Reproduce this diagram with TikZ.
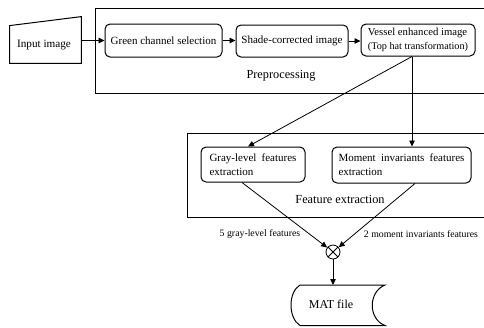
\documentclass[tikz,border=0pt]{standalone}
\usepackage{fontspec}
\setmainfont{Liberation Serif}
\usetikzlibrary{arrows.meta,calc}
\begin{document}
\begin{tikzpicture}[x=1pt,y=-1pt,
  line width=0.8pt,
  arr/.style={-{Triangle[length=6pt,width=5.5pt]}},
  box/.style={draw,line width=1pt,rounded corners=5pt,inner sep=0pt,font=\fontsize{11}{14}\selectfont},
  grp/.style={draw,inner sep=0pt},
  lbl/.style={font=\fontsize{12.3}{14}\selectfont,inner sep=0pt},
  elbl/.style={font=\fontsize{9.8}{12}\selectfont,inner sep=0pt}]
\useasboundingbox (0,0) rectangle (484,327);
\clip (0,0) rectangle (484,327);
% groups
\node[grp,minimum width=395pt,minimum height=85pt] (pre) at (292.5,50.5) {};
\node[grp,minimum width=303pt,minimum height=84pt] (fe) at (338.5,175) {};
\node[lbl] (prelbl) at (281,76) {Preprocessing};
\node[lbl] (felbl) at (340,199) {Feature extraction};
% input
\node[inner sep=0pt,minimum width=71pt,minimum height=46pt] (input) at (45.5,40) {};
\draw[line width=1pt] (input.south west) -- (input.south east) -- (input.north east) -- ($(input.north west)+(0,9)$) -- cycle;
\node[inner sep=0pt,font=\fontsize{11.2}{14}\selectfont] (inputlbl) at (44,45) {Input image};
% preprocessing boxes
\node[box,minimum width=117pt,minimum height=33pt] (green) at (163.5,40.5) {Green channel selection};
\node[box,minimum width=112pt,minimum height=32pt] (shade) at (292,41) {Shade-corrected image};
\node[box,minimum width=114pt,minimum height=32pt,align=left,font=\fontsize{10.7}{14}\selectfont] (vessel) at (418,40) {Vessel enhanced image\\{\fontsize{10.2}{12}\selectfont (Top hat transformation)}};
% feature boxes
\node[box,text width=87pt,align=justify,inner xsep=8.5pt,minimum height=35pt] (gray) at (253,164.5) {Gray-level features extraction};
\node[box,text width=126pt,align=justify,inner xsep=6.5pt,minimum height=36pt] (moment) at (401.5,165) {Moment invariants features extraction};
% mix
\node[draw,circle,minimum size=14pt,inner sep=0pt] (mix) at (333,252) {};
\draw (mix.north west) -- (mix.south east) (mix.north east) -- (mix.south west);
\node[elbl] (l1) at (260,234) {5 gray-level features};
\node[elbl] (l2) at (421,234) {2 moment invariants features};
% MAT file
\draw[line width=1pt] (300,285) -- (385,285) .. controls (368,292) and (368,319) .. (385,325.5) -- (300,325.5) .. controls (288,318) and (288,292) .. (300,285);
\node[inner sep=0pt,font=\fontsize{12}{14}\selectfont] (mat) at (331,304) {MAT file};
\coordinate (mattop) at (333,285);
% connectors
\draw[arr] (green.west -| input.east) -- (green.west);
\draw[arr] (green.east) -- (green.east -| shade.west);
\draw[arr] (shade.east) -- (shade.east -| vessel.west);
\coordinate (vs) at ($(vessel.south)+(-6,0)$);
\draw[arr] (vs) -- ($(gray.north)+(-5,0)$);
\draw[arr] (vs) -- (vs |- moment.north);
\draw[arr] ($(gray.south)+(-11,0)$) -- (mix);
\draw[arr] ($(moment.south)+(13.5,0)$) -- (mix);
\draw[arr] (mix) -- (mattop);
\end{tikzpicture}
\end{document}
